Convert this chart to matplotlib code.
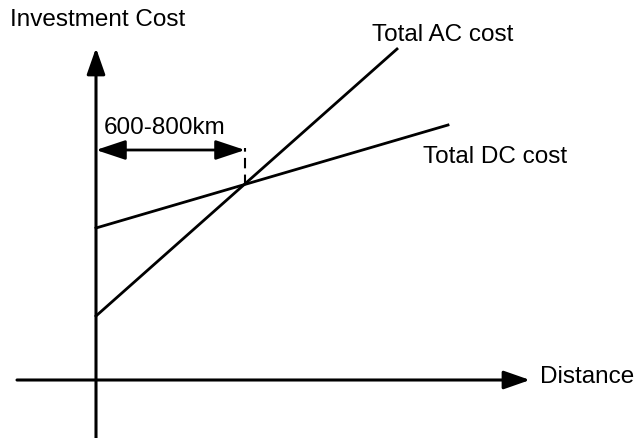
#!/usr/bin/env python3
"""Schematic: investment cost of AC vs DC transmission over distance (break-even)."""

import matplotlib

matplotlib.use("Agg")
import matplotlib.pyplot as plt

# schematic values (origin = axis crossing, arbitrary units)
dc_distance = [0, 352]
dc_cost = [152, 255]
ac_distance = [0, 301]
ac_cost = [64, 331]
breakeven_distance = 149
breakeven_cost = 195
breakeven_label = "600-800km"

x_axis_span = [-79, 434]
y_axis_span = [-58, 332]

plt.rcParams["font.family"] = ["Liberation Sans", "DejaVu Sans"]
FS = 17.5

fig = plt.figure(figsize=(6.41, 4.38), dpi=100)
ax = fig.add_axes([0, 0, 1, 1])
ax.set_xlim(-96, 545)
ax.set_ylim(-58, 380)
ax.set_axis_off()

axis_arrow = dict(
    arrowstyle="-|>,head_length=0.8,head_width=0.28",
    lw=2.2,
    color="black",
    shrinkA=0,
    shrinkB=0,
    mutation_scale=20,
)
ax.annotate("", xy=(x_axis_span[1], 0), xytext=(x_axis_span[0], 0), arrowprops=axis_arrow)
ax.annotate("", xy=(0, y_axis_span[1]), xytext=(0, y_axis_span[0]), arrowprops=axis_arrow)

ax.plot(dc_distance, dc_cost, color="black", lw=2)
ax.plot(ac_distance, ac_cost, color="black", lw=2)

# break-even marker
ax.plot([breakeven_distance, breakeven_distance], [breakeven_cost, 232],
        color="black", lw=1.5, dashes=(5, 3))
ax.annotate("", xy=(breakeven_distance, 230), xytext=(0, 230),
            arrowprops=dict(arrowstyle="<|-|>,head_length=0.9,head_width=0.3",
                            lw=2, color="black", shrinkA=0, shrinkB=0,
                            mutation_scale=20))
ax.text(8, 252, breakeven_label, fontsize=FS, ha="left", va="center")

ax.text(-86, 360, "Investment Cost", fontsize=FS, ha="left", va="center")
ax.text(444, 3, "Distance", fontsize=FS, ha="left", va="center")
ax.text(276, 345, "Total AC cost", fontsize=FS, ha="left", va="center")
ax.text(327, 223, "Total DC cost", fontsize=FS, ha="left", va="center")

fig.savefig("out.png", dpi=100)
plt.close(fig)
